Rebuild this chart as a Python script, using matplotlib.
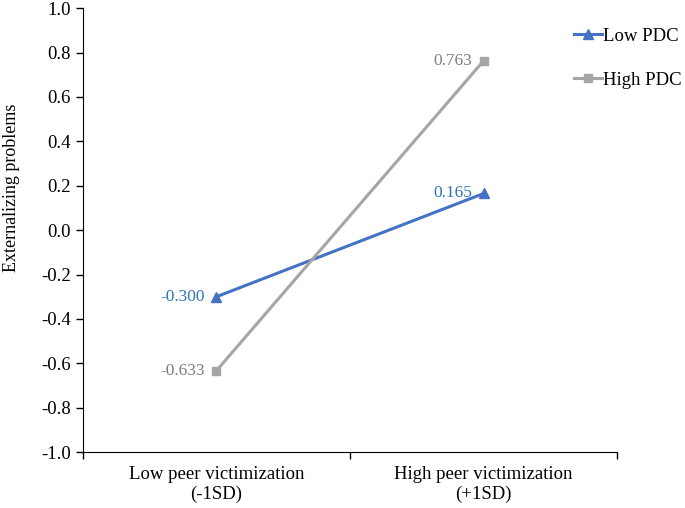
import matplotlib
matplotlib.use("Agg")
from matplotlib import pyplot as plt

categories = ["Low peer victimization\n(-1SD)", "High peer victimization\n(+1SD)"]
low_pdc = [-0.300, 0.165]
high_pdc = [-0.633, 0.763]

plt.rcParams['font.family'] = ['Liberation Serif', 'DejaVu Serif']
plt.rcParams['font.size'] = 13.5

fig = plt.figure(figsize=(6.85, 5.08), dpi=100)
ax = fig.add_axes([0.121, 0.110, 0.780, 0.874])

xs = [0.5, 1.5]
ax.plot(xs, low_pdc, color='#4472C4', lw=2.2, marker='^', ms=7.5, label='Low PDC')
ax.plot(xs, high_pdc, color='#A5A5A5', lw=2.2, marker='s', ms=6, label='High PDC')

for x, v in zip(xs, low_pdc):
    ax.annotate(f"{v:.3f}", (x, v), xytext=(-8, 0), textcoords='offset points',
                ha='right', va='center', color='#2E75B6', fontsize=12.5)
for x, v in zip(xs, high_pdc):
    ax.annotate(f"{v:.3f}", (x, v), xytext=(-8, 0), textcoords='offset points',
                ha='right', va='center', color='#7F7F7F', fontsize=12.5)

ax.set_xlim(0, 2)
ax.set_ylim(-1.0, 1.0)
ax.set_yticks([i / 10 for i in range(-10, 11, 2)])
ax.set_yticklabels([f"{i / 10:.1f}" for i in range(-10, 11, 2)])
ax.set_xticks([0, 1, 2])
ax.set_xticklabels([])
ax.set_xticks(xs, minor=True)
ax.set_xticklabels(categories, minor=True)
ax.tick_params(axis='x', which='minor', length=0, pad=10)
ax.tick_params(axis='both', which='major', length=5, width=1, direction='out')
ax.spines['top'].set_visible(False)
ax.spines['right'].set_visible(False)
ax.set_ylabel("Externalizing problems", fontsize=13)
ax.yaxis.set_label_coords(-0.118, 0.595)

fig.legend(loc='upper left', bbox_to_anchor=(0.838, 0.946), frameon=False,
           borderpad=0, borderaxespad=0,
           handlelength=1.5, handletextpad=0.05, labelspacing=1.45, fontsize=13.5)

fig.savefig("out.png", dpi=100)
